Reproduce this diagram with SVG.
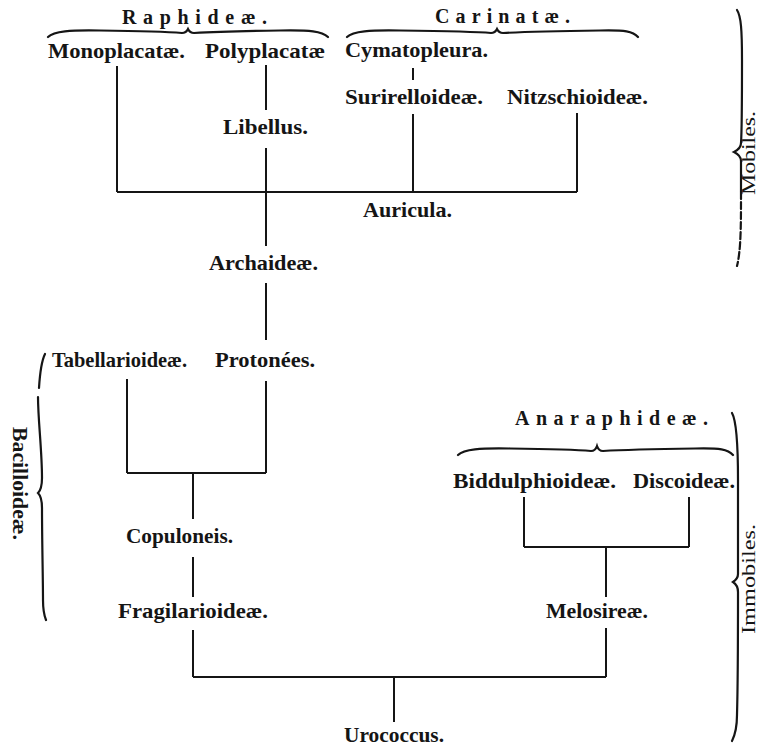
<svg xmlns="http://www.w3.org/2000/svg" width="759" height="746" viewBox="0 0 759 746">
<style>
.lbl{font-family:"Liberation Serif","Times New Roman",serif;font-weight:bold;font-size:21px;fill:#151515}
.hd{font-family:"Liberation Serif","Times New Roman",serif;font-weight:bold;font-size:20px;fill:#151515}
.side{font-family:"Liberation Serif","Times New Roman",serif;font-size:19px;fill:#151515}
.ln{stroke:#151515;stroke-width:2;fill:none;stroke-linecap:butt}
.br{stroke:#151515;stroke-width:2.2;fill:none;stroke-linecap:round}
.dash{stroke-dasharray:7 3}
</style>
<rect width="759" height="746" fill="#ffffff"/>
<g id="connectors">
<path class="ln" d="M117,66 V192"/>
<path class="ln" d="M266,65 V110"/>
<path class="ln" d="M266,148 V246"/>
<path class="ln" d="M117,192 H577"/>
<path class="ln" d="M413,68 V80"/>
<path class="ln" d="M413,114 V192"/>
<path class="ln" d="M577,113 V192"/>
<path class="ln" d="M266,283 V340"/>
<path class="ln" d="M127,379 V473"/>
<path class="ln" d="M266,381 V473"/>
<path class="ln" d="M127,473 H266"/>
<path class="ln" d="M193,473 V519"/>
<path class="ln" d="M193,557 V597"/>
<path class="ln" d="M193,630 V677"/>
<path class="ln" d="M193,677 H606"/>
<path class="ln" d="M394,677 V722"/>
<path class="ln" d="M524,497 V547"/>
<path class="ln" d="M689,497 V547"/>
<path class="ln" d="M524,547 H689"/>
<path class="ln" d="M606,547 V597"/>
<path class="ln" d="M606,628 V677"/>
</g>
<g id="raphideae">
<path class="br" d="M48,37 C54,31 70,30 100,30.5 C140,31 170,32 182,33 C185,33 187,31 188,29 C189,31 191,33 194,33 C210,32 240,31 280,30.5 C310,30 322,31 328,37"/>
<text class="hd" x="122" y="24" textLength="145" lengthAdjust="spacing">Raphideæ.</text>
</g>
<g id="carinatae">
<path class="br" d="M347,37 C353,31 370,30 400,30.5 C440,31 480,32 491,33 C494,33 496,31 497,29 C498,31 500,33 503,33 C520,32 560,31 600,30.5 C625,30 633,31 638,37"/>
<text class="hd" x="435" y="23" textLength="135" lengthAdjust="spacing">Carinatæ.</text>
</g>
<g id="anaraphideae">
<path class="br" d="M458,455 C464,449 480,448 510,448.5 C550,449 580,450 591,451 C594,451 596,449 597,446 C598,449 600,451 603,451 C620,450 660,449 695,448.5 C720,448 728,449 733,455"/>
<text class="hd" x="515" y="425" textLength="193" lengthAdjust="spacing">Anaraphideæ.</text>
</g>
<g id="mobiles">
<path class="br" d="M737,10 C741,16 742,30 742,60 C742,100 742,130 741,143 C741,147 738,150 734,152 C738,154 741,157 741,161 C741,175 741,185 741,192"/>
<path class="br dash" d="M741,192 C741,225 741,250 737,266"/>
<text class="side" transform="translate(755,195) rotate(-90)" textLength="84" lengthAdjust="spacingAndGlyphs">Mobiles.</text>
</g>
<g id="immobiles">
<path class="br" d="M732,413 C736,420 738,440 738,480 C738,530 738,565 738,574 C738,578 736,580 733,582 C736,584 738,587 738,592 C738,620 738,680 737,715 C737,728 735,735 732,741"/>
<text class="side" transform="translate(755,634) rotate(-90)" textLength="110" lengthAdjust="spacingAndGlyphs">Immobiles.</text>
</g>
<g id="bacilloideae">
<path class="br" d="M45,354 C42,360 40,372 39,388"/>
<path class="br" d="M38,397 C38,420 42,450 42,478 C42,485 41,490 38,493 C41,496 42,500 42,508 C42,540 43,580 43,600 C43,610 44,615 46,620"/>
<text class="lbl" font-size="20" transform="translate(13,427) rotate(90)" textLength="113" lengthAdjust="spacingAndGlyphs">Bacilloideæ.</text>
</g>
<g id="monoplacatae"><text class="lbl" x="48" y="58" textLength="137" lengthAdjust="spacingAndGlyphs">Monoplacatæ.</text></g>
<g id="polyplacatae"><text class="lbl" x="205" y="58" textLength="120" lengthAdjust="spacingAndGlyphs">Polyplacatæ</text></g>
<g id="cymatopleura"><text class="lbl" x="345" y="57" textLength="143" lengthAdjust="spacingAndGlyphs">Cymatopleura.</text></g>
<g id="surirelloideae"><text class="lbl" x="345" y="104" textLength="138" lengthAdjust="spacingAndGlyphs">Surirelloideæ.</text></g>
<g id="nitzschioideae"><text class="lbl" x="507" y="104" textLength="141" lengthAdjust="spacingAndGlyphs">Nitzschioideæ.</text></g>
<g id="libellus"><text class="lbl" x="223" y="134" textLength="85" lengthAdjust="spacingAndGlyphs">Libellus.</text></g>
<g id="auricula"><text class="lbl" x="363" y="217" textLength="89" lengthAdjust="spacingAndGlyphs">Auricula.</text></g>
<g id="archaideae"><text class="lbl" x="209" y="270" textLength="109" lengthAdjust="spacingAndGlyphs">Archaideæ.</text></g>
<g id="tabellarioideae"><text class="lbl" x="52" y="367" textLength="135" lengthAdjust="spacingAndGlyphs">Tabellarioideæ.</text></g>
<g id="protonees"><text class="lbl" x="215" y="367" textLength="100" lengthAdjust="spacingAndGlyphs">Protonées.</text></g>
<g id="copuloneis"><text class="lbl" x="126" y="543" textLength="107" lengthAdjust="spacingAndGlyphs">Copuloneis.</text></g>
<g id="fragilarioideae"><text class="lbl" x="118" y="618" textLength="150" lengthAdjust="spacingAndGlyphs">Fragilarioideæ.</text></g>
<g id="biddulphioideae"><text class="lbl" x="453" y="488" textLength="163" lengthAdjust="spacingAndGlyphs">Biddulphioideæ.</text></g>
<g id="discoideae"><text class="lbl" x="633" y="488" textLength="102" lengthAdjust="spacingAndGlyphs">Discoideæ.</text></g>
<g id="melosireae"><text class="lbl" x="546" y="618" textLength="102" lengthAdjust="spacingAndGlyphs">Melosireæ.</text></g>
<g id="urococcus"><text class="lbl" x="344" y="742" textLength="100" lengthAdjust="spacingAndGlyphs">Urococcus.</text></g>
</svg>
